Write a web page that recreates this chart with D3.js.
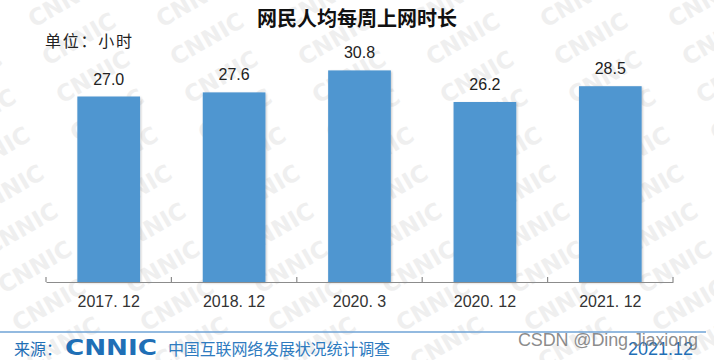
<!DOCTYPE html>
<html><head><meta charset="utf-8">
<script src="https://cdn.jsdelivr.net/npm/d3@7/dist/d3.min.js"></script>
<style>
body{margin:0;background:#fff;}
svg{display:block;}
</style></head>
<body>
<script>
const categories = ["2017. 12", "2018. 12", "2020. 3", "2020. 12", "2021. 12"];
const values = [27.0, 27.6, 30.8, 26.2, 28.5];
const valueLabels = ["27.0", "27.6", "30.8", "26.2", "28.5"];
const title = "网民人均每周上网时长";
const unitLabel = "单位：小时";
const sourcePrefix = "来源：";
const sourceLogo = "CNNIC";
const sourceName = "中国互联网络发展状况统计调查";
const dateLabel = "2021.12";
const credit = "CSDN @Ding Jiaxiong";

const W = 714, H = 360;
const svg = d3.select("body").append("svg").attr("width", W).attr("height", H);
const defs = svg.append("defs");
const f = defs.append("filter").attr("id","sh").attr("x","-20%").attr("y","-10%").attr("width","140%").attr("height","120%");
f.append("feDropShadow").attr("dx",1).attr("dy",1).attr("stdDeviation",1.2).attr("flood-color","#000").attr("flood-opacity",0.22);

// faint background watermark
const wm = svg.append("g");
for (let i = 0; i < 11; i++) {
  for (let j = -1; j < 7; j++) {
    const x = j * 128 + (i * 14) % 128 + 20;
    const y = i * 38 - 10;
    wm.append("text").attr("transform", `translate(${x},${y}) rotate(-30)`)
      .attr("font-family", "DejaVu Sans").attr("font-weight", "bold").attr("font-size", 23)
      .attr("fill", "#efefef").text("CNNIC");
  }
}

const x = d3.scaleBand().domain(categories).range([46, 673]).paddingInner(0.5).paddingOuter(0.25);
const y = d3.scaleLinear().domain([0, 35]).range([282, 282 - 35 * 6.87]);

svg.append("text").attr("x", 357).attr("y", 26).attr("text-anchor", "middle")
  .attr("font-family", "Noto Sans CJK SC").attr("font-weight", "bold").attr("font-size", 20)
  .attr("fill", "#111").text(title);
svg.append("text").attr("x", 45).attr("y", 47)
  .attr("font-family", "Noto Sans CJK SC").attr("font-size", 16).attr("fill", "#222")
  .attr("textLength", 87).text(unitLabel);

const data = categories.map((c, i) => ({c, v: values[i], l: valueLabels[i]}));
svg.append("g").selectAll("rect").data(data).join("rect")
  .attr("x", d => x(d.c)).attr("width", x.bandwidth())
  .attr("y", d => y(d.v)).attr("height", d => y(0) - y(d.v))
  .attr("fill", "#4f96d0").attr("filter", "url(#sh)");
svg.append("g").selectAll("text").data(data).join("text")
  .attr("x", d => x(d.c) + x.bandwidth() / 2).attr("y", d => y(d.v) - 12)
  .attr("text-anchor", "middle").attr("font-family", "Liberation Sans").attr("font-size", 16)
  .attr("fill", "#222").text(d => d.l);

// axis
const ax = svg.append("g").attr("transform", `translate(0,${y(0)})`)
  .call(d3.axisBottom(x).tickSize(0).tickPadding(14));
ax.select(".domain").attr("stroke", "#8c8c8c").attr("stroke-width", 1.2);
ax.selectAll(".tick text").attr("font-family", "Liberation Sans").attr("font-size", 16).attr("fill", "#333");
const bounds = categories.map(c => x(c) - x.step() * x.paddingInner() / 2);
bounds[0] = x.range()[0];
bounds.push(x.range()[1]);
svg.append("g").selectAll("line").data(bounds).join("line")
  .attr("x1", d => d).attr("x2", d => d).attr("y1", y(0) - 5).attr("y2", y(0))
  .attr("stroke", "#8c8c8c").attr("stroke-width", 1.2);

// footer
svg.append("line").attr("x1", 0).attr("x2", 706).attr("y1", 332).attr("y2", 332)
  .attr("stroke", "#6fa3d6").attr("stroke-width", 1.5);
svg.append("text").attr("x", 14).attr("y", 355)
  .attr("font-family", "Noto Sans CJK SC").attr("font-size", 16).attr("fill", "#1f6fb6").text(sourcePrefix);
svg.append("text").attr("x", 65).attr("y", 355)
  .attr("font-family", "DejaVu Sans").attr("font-weight", "bold").attr("font-size", 22)
  .attr("fill", "#1f6fb6").attr("textLength", 92).attr("lengthAdjust", "spacingAndGlyphs").text(sourceLogo);
svg.append("text").attr("x", 168).attr("y", 355)
  .attr("font-family", "Noto Sans CJK SC").attr("font-size", 16).attr("fill", "#2e7bbf")
  .attr("textLength", 222).text(sourceName);
svg.append("text").attr("x", 693).attr("y", 355).attr("text-anchor", "end")
  .attr("font-family", "Liberation Sans").attr("font-size", 18).attr("fill", "#1f6fb6").text(dateLabel);
svg.append("text").attr("x", 518).attr("y", 346)
  .attr("font-family", "Liberation Sans").attr("font-size", 18).attr("fill", "#777").attr("fill-opacity", 0.85)
  .attr("textLength", 180).text(credit);
</script>
</body></html>
